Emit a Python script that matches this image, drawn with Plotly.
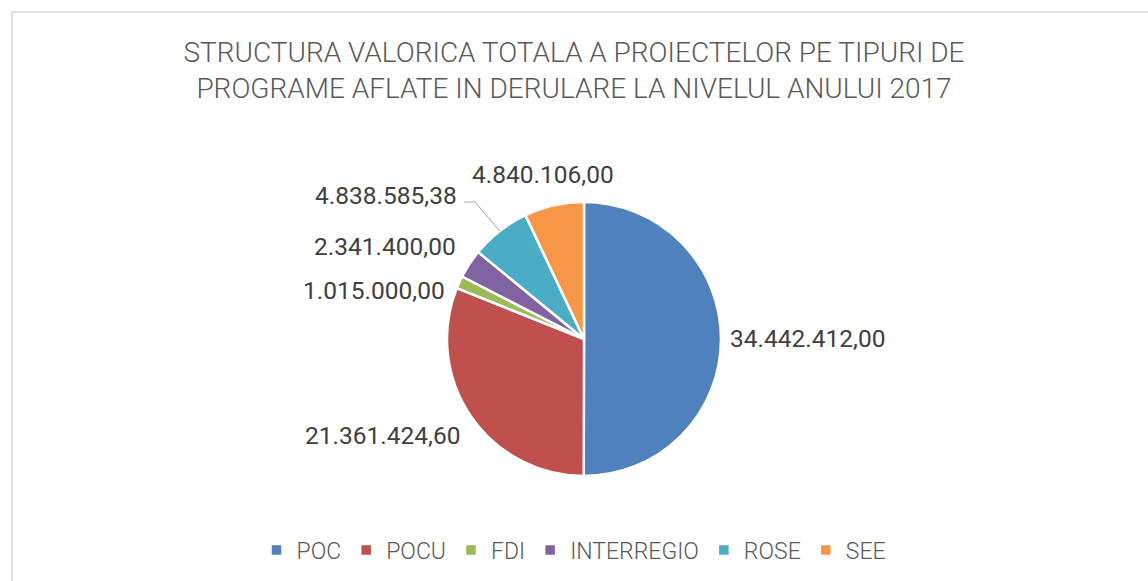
import math
import plotly.graph_objects as go

# Project value structure by programme type, 2017
programe = ["POC", "POCU", "FDI", "INTERREGIO", "ROSE", "SEE"]
valori = [34442412.00, 21361424.60, 1015000.00, 2341400.00, 4838585.38, 4840106.00]
culori = ["#4F81BD", "#C0504D", "#9BBB59", "#8064A2", "#4BACC6", "#F79646"]

W, H = 1148, 581
cx, cy, r = 584, 339, 137  # pie centre and radius in pixels

fig = go.Figure(go.Pie(
    labels=programe,
    values=valori,
    sort=False,
    direction="clockwise",
    rotation=0,
    marker=dict(colors=culori, line=dict(color="white", width=2.5)),
    textinfo="none",
    hoverinfo="label+value+percent",
    domain=dict(x=[(cx - r) / W, (cx + r) / W], y=[(H - cy - r) / H, (H - cy + r) / H]),
))


def fmt(v):
    s = f"{v:,.2f}"
    return s.replace(",", "#").replace(".", ",").replace("#", ".")


# data-label placement (pixel anchor x, anchor y, horizontal anchor)
pozitii = [
    (728, 338, "left"),
    (462, 435, "right"),
    (447, 290, "right"),
    (458, 247, "right"),
    (459, 195, "right"),
    (470, 175, "left"),
]

annotations = []
for v, (px, py, xa) in zip(valori, pozitii):
    annotations.append(dict(
        text=fmt(v), x=px / W, y=1 - py / H, xref="paper", yref="paper",
        xanchor=xa, yanchor="middle", showarrow=False,
        font=dict(family="Roboto", size=24.5, color="#404040"),
    ))

# leader line for the ROSE label, ending on the edge of its slice
total = sum(valori)
start = sum(valori[:4])
mid = (start + valori[4] / 2) / total * 2 * math.pi
ex, ey = cx + r * math.sin(mid), cy - r * math.cos(mid)
leader = dict(
    type="path", xref="paper", yref="paper",
    path=f"M {464 / W},{1 - 202 / H} L {475 / W},{1 - 202 / H} L {ex / W},{1 - ey / H}",
    line=dict(color="#A6A6A6", width=1),
)

frame = dict(type="rect", xref="paper", yref="paper",
             x0=12 / W, x1=1.05, y0=-0.05, y1=1 - 12 / H,
             line=dict(color="#D9D9D9", width=1.5))

fig.update_layout(
    width=W, height=H,
    margin=dict(l=0, r=0, t=0, b=0),
    paper_bgcolor="white",
    separators=",.",
    title=dict(
        text="STRUCTURA VALORICA TOTALA A PROIECTELOR PE TIPURI DE<br>PROGRAME AFLATE IN DERULARE LA NIVELUL ANULUI 2017",
        x=0.5, xanchor="center", y=1 - 62 / H, yanchor="middle",
        font=dict(family="Roboto", size=28, color="#595959", weight=300),
    ),
    legend=dict(
        orientation="h", x=0.5, xanchor="center", y=1 - 550 / H, yanchor="middle",
        font=dict(family="Roboto", size=23, color="#595959", weight=300),
        traceorder="normal",
    ),
    annotations=annotations,
    shapes=[frame, leader],
)

fig.write_html("out.html")
